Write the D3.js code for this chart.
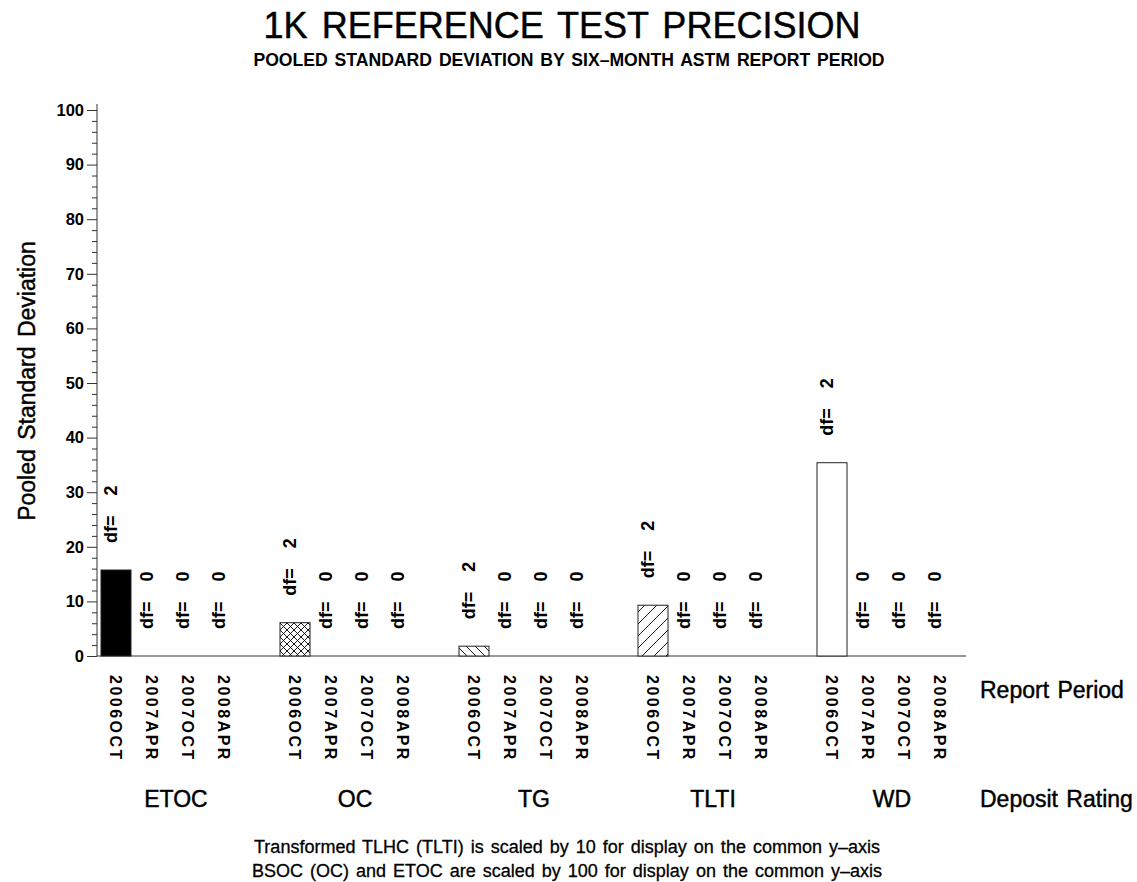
<!DOCTYPE html>
<html><head><meta charset="utf-8">
<script src="https://cdn.jsdelivr.net/npm/d3@7"></script>
<style>
body{margin:0;background:#fff;}
text{font-family:"Liberation Sans",Arial,sans-serif;fill:#000;}
.heavy{stroke:#000;stroke-width:0.45px;}
</style></head>
<body><svg id="c" width="1137" height="882"></svg>
<script>
const groups = ["ETOC","OC","TG","TLTI","WD"];
const periods = ["2006OCT","2007APR","2007OCT","2008APR"];
const values = {
  ETOC:[15.75,0,0,0],
  OC:[6.1,0,0,0],
  TG:[1.8,0,0,0],
  TLTI:[9.3,0,0,0],
  WD:[35.4,0,0,0]
};
const dfs = {
  ETOC:[2,0,0,0], OC:[2,0,0,0], TG:[2,0,0,0], TLTI:[2,0,0,0], WD:[2,0,0,0]
};
const yTicks = [0,10,20,30,40,50,60,70,80,90,100];
const title = "1K REFERENCE TEST PRECISION";
const subtitle = "POOLED STANDARD DEVIATION BY SIX\u2013MONTH ASTM REPORT PERIOD";
const footnotes = ["Transformed TLHC (TLTI) is scaled by 10 for display on the common y\u2013axis",
                   "BSOC (OC) and ETOC are scaled by 100 for display on the common y\u2013axis"];

const svg = d3.select("#c");
const y = d3.scaleLinear().domain([0,100]).range([656,110]);
const gx = d3.scaleBand().domain(groups).range([101,955]).paddingInner(41/179).paddingOuter(0);
const px = d3.scaleBand().domain(periods).range([0,gx.bandwidth()]).paddingInner(6/36).paddingOuter(0);

// patterns
const defs = svg.append("defs");
function hatch(id, size, paths){
  const p = defs.append("pattern").attr("id",id).attr("patternUnits","userSpaceOnUse")
    .attr("width",size).attr("height",size);
  p.append("rect").attr("width",size).attr("height",size).attr("fill","#fff");
  paths.forEach(d=>p.append("path").attr("d",d).attr("stroke","#000").attr("stroke-width",0.9).attr("fill","none"));
}
hatch("cross",7,["M0,0L7,7M-1,6L1,8M6,-1L8,1","M0,7L7,0M-1,1L1,-1M6,8L8,6"]);
hatch("back",9,["M0,0L9,9M-1,8L1,10M8,-1L10,1"]);
hatch("fwd",12,["M0,12L12,0M-1,1L1,-1M11,13L13,11"]);
const fills = {ETOC:"#000", OC:"url(#cross)", TG:"url(#back)", TLTI:"url(#fwd)", WD:"#fff"};

// titles
svg.append("text").attr("class","heavy").attr("x",562).attr("y",38).attr("text-anchor","middle")
  .style("font-size","36px").style("word-spacing","4px").text(title);
svg.append("text").attr("x",569).attr("y",66).attr("text-anchor","middle")
  .style("font-size","17.6px").style("font-weight","bold").style("word-spacing","2px").text(subtitle);

// y axis
const yAxis = d3.axisLeft(y).tickValues(yTicks).tickSize(10).tickPadding(3);
const yg = svg.append("g").attr("transform","translate(97,0)").call(yAxis);
yg.select(".domain").remove();
yg.selectAll("text").style("font-size","16.5px").style("font-weight","bold")
  .style("font-family",'"Liberation Sans",Arial,sans-serif');
yg.selectAll("line").attr("stroke","#333");
const minor = d3.range(0,101,2).filter(v=>v%10!==0);
const ym = svg.append("g").attr("transform","translate(97,0)")
  .call(d3.axisLeft(y).tickValues(minor).tickSize(5).tickFormat(""));
ym.select(".domain").remove();
ym.selectAll("line").attr("stroke","#333");
svg.append("line").attr("x1",97).attr("x2",97).attr("y1",y(0)).attr("y2",y(100)-6)
  .attr("stroke","#333");
svg.append("line").attr("x1",97).attr("x2",966).attr("y1",y(0)).attr("y2",y(0))
  .attr("stroke","#333");

svg.append("text").attr("class","heavy").attr("transform","translate(35,381) rotate(-90)").attr("text-anchor","middle")
  .style("font-size","23px").style("word-spacing","3px").text("Pooled Standard Deviation");

// bars
groups.forEach(g=>{
  const G = svg.append("g").attr("transform",`translate(${gx(g)},0)`);
  periods.forEach((p,i)=>{
    const v = values[g][i];
    const cx = px(p)+px.bandwidth()/2;
    if(v>0){
      G.append("rect").attr("x",px(p)).attr("y",y(v)).attr("width",px.bandwidth())
        .attr("height",y(0)-y(v)).attr("fill",fills[g]).attr("stroke","#222").attr("stroke-width",1);
    }
    G.append("text").attr("transform",`translate(${cx+1},${y(v)-27}) rotate(-90)`)
      .style("font-size","18px").style("font-weight","bold").style("white-space","pre")
      .text("df=    "+dfs[g][i]);
    G.append("text").attr("transform",`translate(${cx},675) rotate(90)`)
      .attr("dy","0.36em")
      .style("font-size","16px").style("font-weight","bold").style("letter-spacing","2.5px")
      .text(p);
  });
  G.append("text").attr("class","heavy").attr("x",gx.bandwidth()/2+6).attr("y",807).attr("text-anchor","middle")
    .style("font-size","23px").text(g);
});

svg.append("text").attr("class","heavy").attr("x",980).attr("y",698).style("font-size","23px").style("word-spacing","2px").text("Report Period");
svg.append("text").attr("class","heavy").attr("x",980).attr("y",807).style("font-size","23px").style("word-spacing","2px").text("Deposit Rating");

footnotes.forEach((f,i)=>{
  svg.append("text").attr("x",567).attr("y",853+i*24).attr("text-anchor","middle")
    .style("font-size","18px").style("stroke","#000").style("stroke-width","0.3px")
    .style("word-spacing","2px").text(f);
});
</script></body></html>
